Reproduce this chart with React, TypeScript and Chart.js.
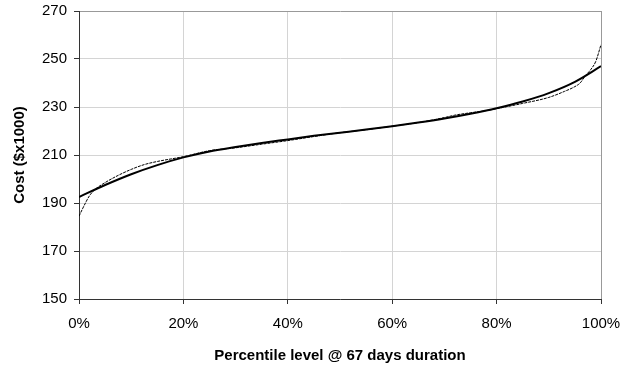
import React, { useEffect, useRef } from "react";
import { Chart, registerables } from "chart.js";

Chart.register(...registerables);

const fitPercent = [0, 5, 10, 15, 20, 25, 30, 35, 40, 45, 50, 55, 60, 65, 70, 75, 80, 85, 90, 95, 100];
const fitCost = [192.5, 197.5, 202, 205.8, 209, 211.5, 213.3, 215, 216.5, 218, 219.3, 220.6, 222, 223.5, 225.2, 227.2, 229.5, 232.3, 235.8, 240.5, 247];

const simPercent = [0, 1, 2, 3, 5, 7.5, 10, 12.5, 15, 20, 25, 30, 35, 40, 45, 50, 55, 60, 65, 70, 72, 75, 78, 80, 85, 90, 93, 95, 96, 97, 98, 99, 100];
const simCost = [184.5, 189, 193, 195.5, 198.5, 201.5, 204, 206, 207.3, 209.3, 211.8, 213, 214.5, 216, 217.7, 219.3, 220.5, 222, 223.5, 225.6, 226.6, 227.6, 228.5, 229.3, 231.5, 234, 236.5, 238.5, 240, 243, 245.5, 249, 256];

const xTicks = [0, 20, 40, 60, 80, 100];
const yTicks = [150, 170, 190, 210, 230, 250, 270];

export default function App() {
  const ref = useRef<HTMLCanvasElement>(null);
  useEffect(() => {
    if (!ref.current) return;
    const font = "'Liberation Sans', Arial, sans-serif";
    const chart = new Chart(ref.current, {
      type: "line",
      data: {
        datasets: [
          {
            label: "Simulated",
            data: simPercent.map((x, i) => ({ x, y: simCost[i] })),
            borderColor: "#000",
            borderWidth: 1,
            borderDash: [3, 1],
            pointRadius: 0,
            cubicInterpolationMode: "monotone",
            fill: false,
          },
          {
            label: "Fitted",
            data: fitPercent.map((x, i) => ({ x, y: fitCost[i] })),
            borderColor: "#000",
            borderWidth: 2,
            pointRadius: 0,
            cubicInterpolationMode: "monotone",
            fill: false,
          },
        ],
      },
      options: {
        responsive: false,
        animation: false,
        layout: { padding: { top: 11, right: 21, left: 0, bottom: 0 } },
        plugins: { legend: { display: false }, tooltip: { enabled: false } },
        scales: {
          x: {
            type: "linear",
            min: 0,
            max: 100,
            afterBuildTicks: (s: any) => {
              s.ticks = xTicks.map((v) => ({ value: v }));
            },
            afterFit: (s: any) => {
              s.height = 71;
              s.paddingLeft = 0;
              s.paddingRight = 0;
            },
            ticks: {
              color: "#000",
              font: { family: font, size: 15 },
              padding: 11,
              maxRotation: 0,
              callback: (v: any) => v + "%",
            },
            grid: {
              color: (c: any) => (c.tick && c.tick.value === 100 ? "#999" : "#d4d4d4"),
              tickColor: "#333",
              tickLength: 5,
            },
            border: { color: "#333", width: 1 },
            title: {
              display: true,
              text: "Percentile level @ 67 days duration",
              color: "#000",
              font: { family: font, size: 15, weight: "bold" },
              padding: { top: 4, bottom: 5 },
            },
          },
          y: {
            min: 150,
            max: 270,
            afterBuildTicks: (s: any) => {
              s.ticks = yTicks.map((v) => ({ value: v }));
            },
            afterFit: (s: any) => {
              s.width = 79;
              s.paddingTop = 0;
              s.paddingBottom = 0;
            },
            ticks: {
              color: "#000",
              font: { family: font, size: 15 },
              padding: 7,
            },
            grid: {
              color: (c: any) => (c.tick && c.tick.value === 270 ? "#999" : "#d4d4d4"),
              tickColor: "#333",
              tickLength: 5,
            },
            border: { color: "#333", width: 1 },
            title: {
              display: true,
              text: "Cost ($x1000)",
              color: "#000",
              font: { family: font, size: 15, weight: "bold" },
              padding: { top: 11, bottom: 2 },
            },
          },
        },
      },
    });
    return () => chart.destroy();
  }, []);
  return (
    <div style={{ position: "absolute", left: 0, top: 0, width: 622, height: 370, background: "#fff" }}>
      <canvas ref={ref} width={622} height={370} />
    </div>
  );
}
